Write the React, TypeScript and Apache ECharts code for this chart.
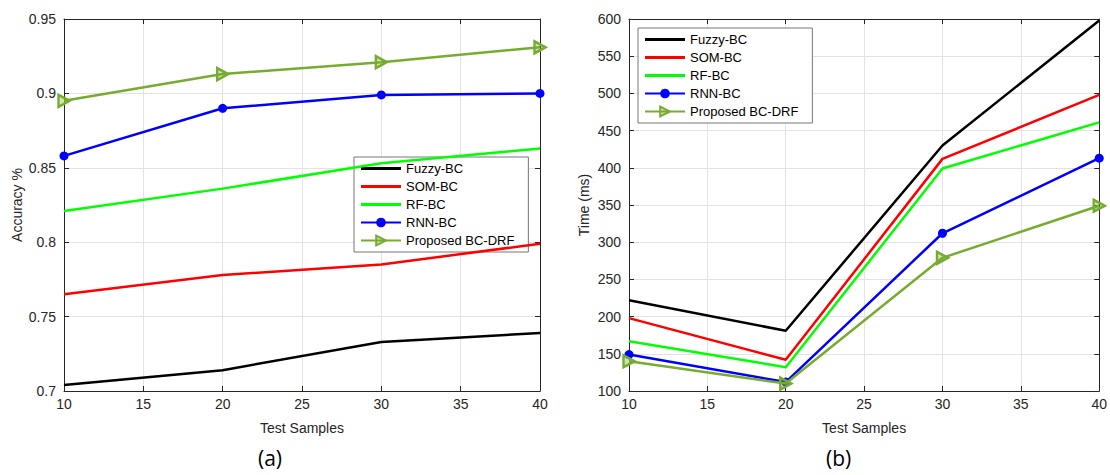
import React, { useEffect, useRef } from "react";
import * as echarts from "echarts";

const samples = [10, 20, 30, 40];
const seriesNames = ["Fuzzy-BC", "SOM-BC", "RF-BC", "RNN-BC", "Proposed BC-DRF"];
const colors = ["#000000", "#FF0000", "#00FF00", "#0000FF", "#77AC30"];

// (a) Accuracy
const accFuzzy = [0.704, 0.714, 0.733, 0.739];
const accSom = [0.765, 0.778, 0.785, 0.799];
const accRf = [0.821, 0.836, 0.853, 0.863];
const accRnn = [0.858, 0.89, 0.899, 0.9];
const accProposed = [0.895, 0.913, 0.921, 0.931];

// (b) Time (ms)
const timeFuzzy = [222, 181, 430, 598];
const timeSom = [198, 142, 412, 498];
const timeRf = [167, 132, 399, 461];
const timeRnn = [149, 112, 312, 413];
const timeProposed = [140, 110, 279, 349];

const FONT = "Liberation Sans, Arial, sans-serif";
const TXT = "#262626";

export default function App() {
  const ref = useRef<HTMLDivElement>(null);
  useEffect(() => {
    document.body.style.margin = "0";
    const chart = echarts.init(ref.current!, null, { renderer: "svg" });
    const accData = [accFuzzy, accSom, accRf, accRnn, accProposed];
    const timeData = [timeFuzzy, timeSom, timeRf, timeRnn, timeProposed];

    const mkSeries = (data: number[][], gi: number) =>
      data.map((d, i) => {
        const s: any = {
          name: seriesNames[i],
          type: "line",
          xAxisIndex: gi * 2,
          yAxisIndex: gi * 2,
          data: d.map((v, j) => [samples[j], v]),
          lineStyle: { color: colors[i], width: 2.5 },
          itemStyle: { color: colors[i] },
          symbol: "none",
          z: 3 + i,
        };
        if (i === 3) {
          s.symbol = "circle";
          s.symbolSize = 9;
          s.itemStyle = { color: colors[i], borderWidth: 0 };
        }
        if (i === 4) {
          s.symbol = "triangle";
          s.symbolRotate = -90;
          s.symbolSize = [12, 11];
          s.itemStyle = { color: "rgba(119,172,48,0.35)", borderColor: colors[i], borderWidth: 2.5 };
        }
        return s;
      });

    const xMain = (gi: number) => ({
      type: "value",
      gridIndex: gi,
      min: 10,
      max: 40,
      interval: 5,
      name: "Test Samples",
      nameLocation: "middle",
      nameGap: 30,
      nameTextStyle: { fontFamily: FONT, fontSize: 14, color: TXT },
      axisLine: { show: true, lineStyle: { color: TXT } },
      axisTick: { show: true, inside: true, length: 5, lineStyle: { color: TXT } },
      axisLabel: { fontFamily: FONT, fontSize: 14, color: TXT, margin: 6 },
      splitLine: { show: true, lineStyle: { color: "#e3e3e3", width: 1 } },
    });
    const xTop = (gi: number) => ({
      type: "value",
      gridIndex: gi,
      position: "top",
      min: 10,
      max: 40,
      interval: 5,
      axisLine: { show: true, lineStyle: { color: TXT } },
      axisTick: { show: true, inside: true, length: 5, lineStyle: { color: TXT } },
      axisLabel: { show: false },
      splitLine: { show: false },
    });
    const yMain = (gi: number, min: number, max: number, interval: number, name: string, fmt: (v: number) => string) => ({
      type: "value",
      gridIndex: gi,
      min,
      max,
      interval,
      name,
      nameLocation: "middle",
      nameGap: gi === 0 ? 40 : 38,
      nameTextStyle: { fontFamily: FONT, fontSize: 14, color: TXT },
      axisLine: { show: true, lineStyle: { color: TXT } },
      axisTick: { show: true, inside: true, length: 5, lineStyle: { color: TXT } },
      axisLabel: { fontFamily: FONT, fontSize: 14, color: TXT, margin: 8, formatter: fmt },
      splitLine: { show: true, lineStyle: { color: "#e3e3e3", width: 1 } },
    });
    const yRight = (gi: number, min: number, max: number, interval: number) => ({
      type: "value",
      gridIndex: gi,
      position: "right",
      min,
      max,
      interval,
      axisLine: { show: true, lineStyle: { color: TXT } },
      axisTick: { show: true, inside: true, length: 5, lineStyle: { color: TXT } },
      axisLabel: { show: false },
      splitLine: { show: false },
    });

    const flatIcon = "path://M0,0 L40,0 L40,3 L0,3 Z";
    const legendData = seriesNames.map((n, i) => (i < 3 ? { name: n, icon: flatIcon } : { name: n }));

    const legendCommon = {
      orient: "vertical",
      data: legendData,
      itemWidth: 40,
      itemHeight: 12,
      itemGap: 5,
      backgroundColor: "#ffffff",
      borderColor: "#777777",
      borderWidth: 1,
      padding: [5, 14, 5, 6],
      borderRadius: 0,
      textStyle: { fontFamily: FONT, fontSize: 13, color: "#000" },
      selectedMode: false,
    };

    chart.setOption({
      animation: false,
      grid: [
        { left: 64, top: 19, width: 476, height: 372, containLabel: false },
        { left: 629, top: 19, width: 472, height: 372, containLabel: false },
      ],
      xAxis: [xMain(0), xTop(0), xMain(1), xTop(1)],
      yAxis: [
        yMain(0, 0.7, 0.95, 0.05, "Accuracy %", (v: number) => String(parseFloat(v.toFixed(2)))),
        yRight(0, 0.7, 0.95, 0.05),
        yMain(1, 100, 600, 50, "Time (ms)", (v: number) => String(v)),
        yRight(1, 100, 600, 50),
      ],
      legend: [
        { ...legendCommon, left: 354, top: 157 },
        { ...legendCommon, left: 638, top: 28 },
      ],
      series: [...mkSeries(accData, 0), ...mkSeries(timeData, 1)],
      graphic: [
        { type: "text", left: 258, top: 447, style: { text: "(a)", fontFamily: "Open Sans, sans-serif", fontSize: 21, fill: "#000" } },
        { type: "text", left: 826, top: 447, style: { text: "(b)", fontFamily: "Open Sans, sans-serif", fontSize: 21, fill: "#000" } },
      ],
    });
    return () => chart.dispose();
  }, []);
  return <div ref={ref} style={{ width: 1110, height: 475 }} />;
}
